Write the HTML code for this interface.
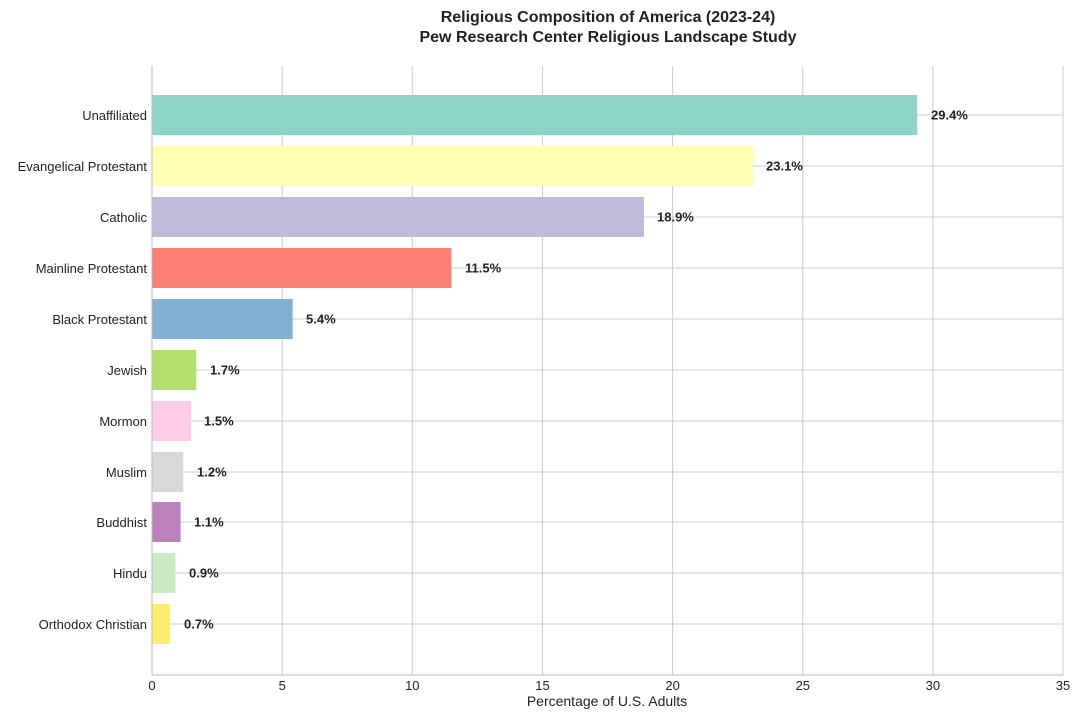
<!DOCTYPE html>
<html><head><meta charset="utf-8"><style>
body{margin:0;background:#fff}
text{font-family:"Liberation Sans",sans-serif}
</style></head><body>
<svg width="1080" height="717" xmlns="http://www.w3.org/2000/svg">
<rect width="1080" height="717" fill="#fff"/>
<text x="608" y="22" font-size="16" font-weight="bold" text-anchor="middle" fill="#222">Religious Composition of America (2023-24)</text>
<text x="608" y="42" font-size="16" font-weight="bold" text-anchor="middle" fill="#222">Pew Research Center Religious Landscape Study</text>
<g stroke="#cccccc" stroke-width="1">
<line x1="282.2" y1="66" x2="282.2" y2="675"/>
<line x1="412.3" y1="66" x2="412.3" y2="675"/>
<line x1="542.5" y1="66" x2="542.5" y2="675"/>
<line x1="672.6" y1="66" x2="672.6" y2="675"/>
<line x1="802.8" y1="66" x2="802.8" y2="675"/>
<line x1="932.9" y1="66" x2="932.9" y2="675"/>
<line x1="1063" y1="66" x2="1063" y2="675"/>
<line x1="152" y1="115" x2="1063" y2="115"/>
<line x1="152" y1="166" x2="1063" y2="166"/>
<line x1="152" y1="217" x2="1063" y2="217"/>
<line x1="152" y1="268" x2="1063" y2="268"/>
<line x1="152" y1="319" x2="1063" y2="319"/>
<line x1="152" y1="370" x2="1063" y2="370"/>
<line x1="152" y1="421" x2="1063" y2="421"/>
<line x1="152" y1="472" x2="1063" y2="472"/>
<line x1="152" y1="522" x2="1063" y2="522"/>
<line x1="152" y1="573" x2="1063" y2="573"/>
<line x1="152" y1="624" x2="1063" y2="624"/>
</g>
<g>
<rect x="152" y="95" width="765.3" height="40" fill="#8dd3c7"/>
<rect x="152" y="146" width="601.3" height="40" fill="#ffffb3"/>
<rect x="152" y="197" width="492" height="40" fill="#bebada"/>
<rect x="152" y="248" width="299.4" height="40" fill="#fb8072"/>
<rect x="152" y="299" width="140.6" height="40" fill="#80b1d3"/>
<rect x="152" y="350" width="44.3" height="40" fill="#b3de69"/>
<rect x="152" y="401" width="39" height="40" fill="#fccde5"/>
<rect x="152" y="452" width="31.2" height="40" fill="#d9d9d9"/>
<rect x="152" y="502" width="28.6" height="40" fill="#bc80bd"/>
<rect x="152" y="553" width="23.4" height="40" fill="#ccebc5"/>
<rect x="152" y="604" width="18.2" height="40" fill="#ffed6f"/>
</g>
<g font-size="13" font-weight="bold" fill="#222">
<text x="931" y="119.5">29.4%</text>
<text x="766" y="170.5">23.1%</text>
<text x="657" y="221.5">18.9%</text>
<text x="465" y="272.5">11.5%</text>
<text x="306" y="323.5">5.4%</text>
<text x="210" y="374.5">1.7%</text>
<text x="204" y="425.5">1.5%</text>
<text x="197" y="476.5">1.2%</text>
<text x="194" y="526.5">1.1%</text>
<text x="189" y="577.5">0.9%</text>
<text x="184" y="628.5">0.7%</text>
</g>
<g font-size="13" fill="#222" text-anchor="end">
<text x="147" y="120">Unaffiliated</text>
<text x="147" y="171">Evangelical Protestant</text>
<text x="147" y="222">Catholic</text>
<text x="147" y="273">Mainline Protestant</text>
<text x="147" y="324">Black Protestant</text>
<text x="147" y="375">Jewish</text>
<text x="147" y="426">Mormon</text>
<text x="147" y="477">Muslim</text>
<text x="147" y="527">Buddhist</text>
<text x="147" y="578">Hindu</text>
<text x="147" y="629">Orthodox Christian</text>
</g>
<line x1="152" y1="66" x2="152" y2="675" stroke="#bbb"/>
<line x1="152" y1="675" x2="1063" y2="675" stroke="#bbb"/>
<g font-size="13" fill="#222" text-anchor="middle">
<text x="152" y="690">0</text>
<text x="282.2" y="690">5</text>
<text x="412.3" y="690">10</text>
<text x="542.5" y="690">15</text>
<text x="672.6" y="690">20</text>
<text x="802.8" y="690">25</text>
<text x="932.9" y="690">30</text>
<text x="1063" y="690">35</text>
<text x="607" y="706" font-size="14">Percentage of U.S. Adults</text>
</g>
</svg>
</body></html>
